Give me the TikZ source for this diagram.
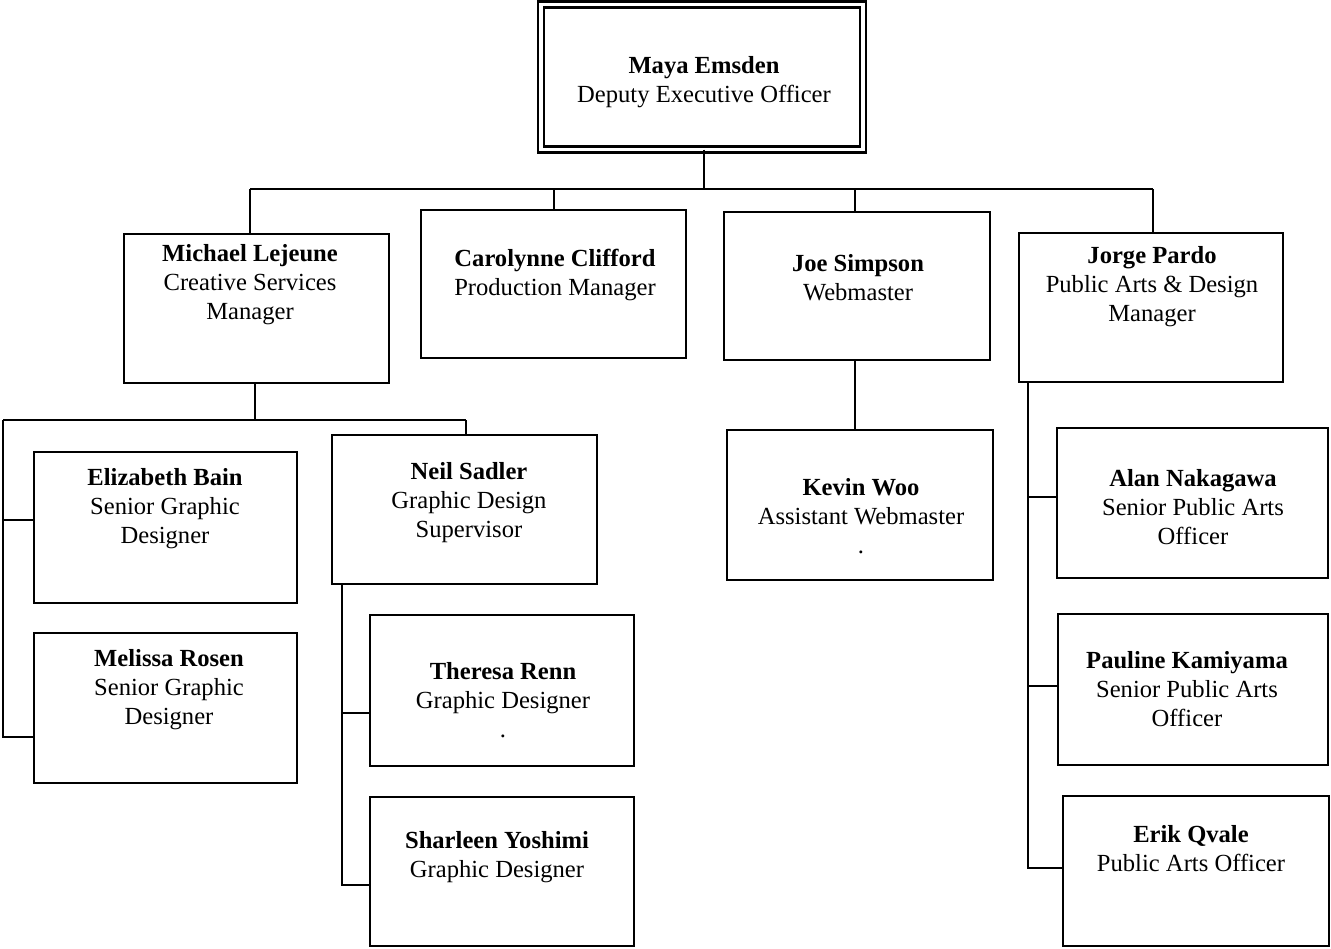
\documentclass[tikz,border=0pt]{standalone}
\usepackage{fontspec}
\setmainfont{Liberation Serif}
\newcommand\orgbox[5]{\node[obox, minimum width={(#4-#2)*0.02cm}, minimum height={(#5-#3)*0.02cm}] (#1) at ({(#2+#4)/2},{(#3+#5)/2}) {};}
\begin{document}
\begin{tikzpicture}[x=0.02cm,y=-0.02cm,
  obox/.style={draw, line width=1.6pt, rectangle, inner sep=0pt, outer sep=0pt},
  txt/.style={align=center, font=\fontsize{14}{16.5}\selectfont, inner sep=0pt},
  conn/.style={line width=1.1pt}]
\useasboundingbox (0,0) rectangle (1331,948);
% top box
\node[draw, line width=1.2pt, double, double distance=2.2pt, inner sep=0pt, outer sep=0pt,
      minimum width={322*0.02cm}, minimum height={145*0.02cm}] (maya) at (702,77) {};
% level 2
\orgbox{mich}{124}{234}{389}{383}
\orgbox{caro}{421}{210}{686}{358}
\orgbox{joe}{724}{212}{990}{360}
\orgbox{jorge}{1019}{233}{1283}{382}
% level 3
\orgbox{eliz}{34}{452}{297}{603}
\orgbox{mel}{34}{633}{297}{783}
\orgbox{neil}{332}{435}{597}{584}
\orgbox{ther}{370}{615}{634}{766}
\orgbox{shar}{370}{797}{634}{946}
\orgbox{kev}{727}{430}{993}{580}
\orgbox{alan}{1057}{428}{1328}{578}
\orgbox{paul}{1058}{614}{1328}{765}
\orgbox{erik}{1063}{796}{1329}{946}
% texts
\node[txt] (mayat) at (704,82) {\textbf{Maya Emsden}\\Deputy Executive Officer};
\node[txt] (micht) at (250,285) {\textbf{Michael Lejeune}\\Creative Services\\Manager};
\node[txt] (carot) at (555,275) {\textbf{Carolynne Clifford}\\Production Manager};
\node[txt] (joet) at (858,278) {\textbf{Joe Simpson}\\Webmaster};
\node[txt] (jorget) at (1152,287) {\textbf{Jorge Pardo}\\Public Arts \& Design\\Manager};
\node[txt] (elizt) at (165,509) {\textbf{Elizabeth Bain}\\Senior Graphic\\Designer};
\node[txt] (melt) at (169,690) {\textbf{Melissa Rosen}\\Senior Graphic\\Designer};
\node[txt] (neilt) at (469,503) {\textbf{Neil Sadler}\\Graphic Design\\Supervisor};
\node[txt] (thert) at (503,700) {\textbf{Theresa Renn}\\Graphic Designer\\.};
\node[txt] (shart) at (497,857) {\textbf{Sharleen Yoshimi}\\Graphic Designer};
\node[txt] (kevt) at (861,516) {\textbf{Kevin Woo}\\Assistant Webmaster\\.};
\node[txt] (alant) at (1193,507) {\textbf{Alan Nakagawa}\\Senior Public Arts\\Officer};
\node[txt] (pault) at (1187,689) {\textbf{Pauline Kamiyama}\\Senior Public Arts\\Officer};
\node[txt] (erikt) at (1191,849) {\textbf{Erik Qvale}\\Public Arts Officer};
% connectors level 1-2
\coordinate (top) at (704,189);
\coordinate (bl) at (250,189);
\coordinate (bc) at (554,189);
\coordinate (bj) at (855,189);
\coordinate (br) at (1153,189);
\draw[conn] (maya.south -| top) -- (top);
\draw[conn] (bl) -- (br);
\draw[conn] (bl) -- (bl |- mich.north);
\draw[conn] (bc) -- (bc |- caro.north);
\draw[conn] (bj) -- (bj |- joe.north);
\draw[conn] (br) -- (br |- jorge.north);
% Michael
\coordinate (m3) at (255,420);
\coordinate (m3l) at (3,420);
\coordinate (m3r) at (466,420);
\coordinate (eb) at (3,520);
\coordinate (mb) at (3,737);
\draw[conn] (mich.south -| m3) -- (m3);
\draw[conn] (m3l) -- (m3r);
\draw[conn] (m3r) -- (m3r |- neil.north);
\draw[conn] (m3l) -- (mb) -- (mb -| mel.west);
\draw[conn] (eb) -- (eb -| eliz.west);
% Neil
\coordinate (nt) at (342,713);
\coordinate (ns) at (342,885);
\draw[conn] (neil.south -| ns) -- (ns) -- (ns -| shar.west);
\draw[conn] (nt) -- (nt -| ther.west);
% Joe
\coordinate (jk) at (855,400);
\draw[conn] (joe.south -| jk) -- (kev.north -| jk);
% Jorge
\coordinate (pa) at (1028,497);
\coordinate (pp) at (1028,686);
\coordinate (pe) at (1028,868);
\draw[conn] (jorge.south -| pe) -- (pe) -- (pe -| erik.west);
\draw[conn] (pa) -- (pa -| alan.west);
\draw[conn] (pp) -- (pp -| paul.west);
\end{tikzpicture}
\end{document}
